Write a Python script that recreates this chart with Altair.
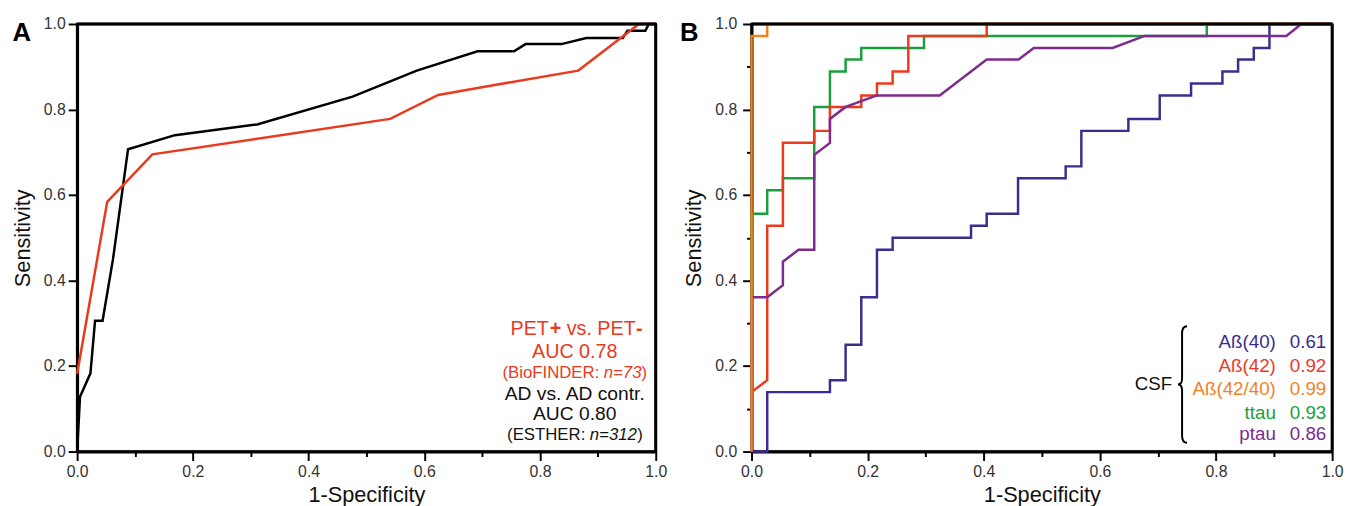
import altair as alt
import pandas as pd

FONT = "Liberation Sans"

# ---------------- Panel A : ROC curves ----------------
a_ad_x = [0, 0.005, 0.023, 0.031, 0.044, 0.062, 0.088, 0.169, 0.311, 0.476, 0.587,
          0.692, 0.755, 0.775, 0.837, 0.880, 0.943, 0.951, 0.982, 0.988, 1.0]
a_ad_y = [0, 0.128, 0.183, 0.306, 0.306, 0.45, 0.707, 0.740, 0.765, 0.830, 0.891,
          0.936, 0.936, 0.953, 0.953, 0.967, 0.967, 0.984, 0.984, 1.0, 1.0]
a_pet_x = [0, 0.052, 0.130, 0.541, 0.624, 0.729, 0.866, 0.971, 1.0]
a_pet_y = [0.182, 0.584, 0.695, 0.778, 0.834, 0.859, 0.891, 1.0, 1.0]

# ---------------- Panel B : CSF ROC curves ----------------
b_ab40_x = [0, 0.027, 0.027, 0.135, 0.135, 0.162, 0.162, 0.189, 0.189, 0.216, 0.216,
            0.243, 0.243, 0.378, 0.378, 0.405, 0.405, 0.459, 0.459, 0.541, 0.541,
            0.568, 0.568, 0.649, 0.649, 0.703, 0.703, 0.757, 0.757, 0.811, 0.811,
            0.838, 0.838, 0.865, 0.865, 0.892, 0.892, 1.0]
b_ab40_y = [0, 0, 0.139, 0.139, 0.167, 0.167, 0.250, 0.250, 0.361, 0.361, 0.472,
            0.472, 0.500, 0.500, 0.528, 0.528, 0.556, 0.556, 0.639, 0.639, 0.667,
            0.667, 0.750, 0.750, 0.778, 0.778, 0.833, 0.833, 0.861, 0.861, 0.889,
            0.889, 0.917, 0.917, 0.944, 0.944, 1.0, 1.0]
b_ab42_x = [0, 0.027, 0.027, 0.054, 0.054, 0.108, 0.108, 0.135, 0.135, 0.189, 0.189,
            0.216, 0.216, 0.243, 0.243, 0.270, 0.270, 0.405, 0.405, 1.0]
b_ab42_y = [0.139, 0.167, 0.528, 0.528, 0.722, 0.722, 0.750, 0.750, 0.806, 0.806, 0.833,
            0.833, 0.861, 0.861, 0.889, 0.889, 0.972, 0.972, 1.0, 1.0]
b_ratio_x = [0, 0, 0.027, 0.027, 1.0]
b_ratio_y = [0, 0.972, 0.972, 1.0, 1.0]
b_ttau_x = [0, 0, 0.027, 0.027, 0.054, 0.054, 0.108, 0.108, 0.135, 0.135, 0.162,
            0.162, 0.189, 0.189, 0.297, 0.297, 0.784, 0.784, 1.0]
b_ttau_y = [0, 0.556, 0.556, 0.611, 0.611, 0.639, 0.639, 0.806, 0.806, 0.889, 0.889,
            0.917, 0.917, 0.944, 0.944, 0.972, 0.972, 1.0, 1.0]
b_ptau_x = [0, 0, 0.027, 0.054, 0.054, 0.081, 0.108, 0.108, 0.135, 0.135, 0.162,
            0.216, 0.324, 0.405, 0.460, 0.486, 0.622, 0.677, 0.921, 0.947, 1.0]
b_ptau_y = [0, 0.361, 0.361, 0.389, 0.444, 0.472, 0.472, 0.694, 0.722, 0.778, 0.806,
            0.833, 0.833, 0.917, 0.917, 0.944, 0.944, 0.972, 0.972, 1.0, 1.0]

# ---------------- colours ----------------
C_BLACK = "#000000"
C_RED = "#ea3a1e"
C_AB40 = "#3d2c8f"
C_AB42 = "#ec3a1f"
C_RATIO = "#f5821f"
C_TTAU = "#1a9f3c"
C_PTAU = "#7e2b8f"

# ---------------- legend texts ----------------
b_names = ["A\u00df(40)", "A\u00df(42)", "A\u00df(42/40)", "ttau", "ptau"]
b_aucs = ["0.61", "0.92", "0.99", "0.93", "0.86"]
b_colors = [C_AB40, C_AB42, C_RATIO, C_TTAU, C_PTAU]
b_text_y = [0.255, 0.201, 0.145, 0.090, 0.042]

MAJOR = "round(datum.value*10) % 2 == 0"


def axis_def(title, minor, orient_pad):
    vals = [round(i / 10, 1) for i in range(11)] if minor else [round(i / 5, 1) for i in range(6)]
    return alt.Axis(
        title=title, values=vals,
        labelExpr=f"{MAJOR} ? format(datum.value, '.1f') : ''",
        tickSize={"condition": {"test": MAJOR, "value": 9}, "value": 5},
        labelOverlap=False, labelFlush=False, labelPadding=orient_pad[0],
        titlePadding=orient_pad[1],
    )


def encs(xaxis, yaxis):
    sc = alt.Scale(domain=[0, 1], nice=False, zero=False)
    X = alt.X("x:Q", scale=sc, axis=xaxis)
    Y = alt.Y("y:Q", scale=sc, axis=yaxis)
    return X, Y


def curve(xs, ys, color, X, Y, width=2.5):
    df = pd.DataFrame({"x": xs, "y": ys, "i": list(range(len(xs)))})
    return alt.Chart(df).mark_line(color=color, strokeWidth=width).encode(
        x=X, y=Y, order="i:Q")


def frame(X, Y):
    top = alt.Chart(pd.DataFrame({"x": [0.0], "x2": [1.0], "y": [1.0]})).mark_rule(
        color="black", strokeWidth=3).encode(x=X, x2="x2:Q", y=Y)
    right = alt.Chart(pd.DataFrame({"x": [1.0], "y": [0.0], "y2": [1.0]})).mark_rule(
        color="black", strokeWidth=3).encode(x=X, y=Y, y2="y2:Q")
    return [top, right]


def text(rows, X, Y, **mk):
    df = pd.DataFrame(rows, columns=["x", "y", "t"])
    props = dict(font=FONT, baseline="middle")
    props.update(mk)
    return alt.Chart(df).mark_text(**props).encode(x=X, y=Y, text="t:N")


def panel_label(letter, dx, dy):
    df = pd.DataFrame({"t": [letter]})
    return alt.Chart(df).mark_text(font=FONT, fontSize=26, fontWeight="bold",
                                   align="center", baseline="middle").encode(
        x=alt.value(dx), y=alt.value(dy), text="t:N")


# ---------------- Panel A ----------------
XA, YA = encs(axis_def("1-Specificity", True, (3, 6)),
              axis_def("Sensitivity", False, (3, 9)))
la = [
    curve(a_ad_x, a_ad_y, C_BLACK, XA, YA),
    curve(a_pet_x, a_pet_y, C_RED, XA, YA),
    *frame(XA, YA),
    text([(0.749, 0.286, "PET")], XA, YA, align="left", fontSize=20, color=C_RED),
    text([(0.817, 0.286, "+")], XA, YA, align="left", fontSize=20, fontWeight="bold", color=C_RED),
    text([(0.846, 0.286, "vs. PET")], XA, YA, align="left", fontSize=20, color=C_RED),
    text([(0.966, 0.286, "-")], XA, YA, align="left", fontSize=20, fontWeight="bold", color=C_RED),
    text([(0.860, 0.232, "AUC 0.78")], XA, YA, align="center", fontSize=20, color=C_RED),
    text([(0.735, 0.183, "(BioFINDER:")], XA, YA, align="left", fontSize=17, color=C_RED),
    text([(0.910, 0.183, "n=73")], XA, YA, align="left", fontSize=17, fontStyle="italic", color=C_RED),
    text([(0.9754, 0.183, ")")], XA, YA, align="left", fontSize=17, color=C_RED),
    text([(0.860, 0.134, "AD vs. AD contr."), (0.860, 0.088, "AUC 0.80")], XA, YA,
         align="center", fontSize=19.5, color="#111111"),
    text([(0.743, 0.039, "(ESTHER:")], XA, YA, align="left", fontSize=17, color="#111111"),
    text([(0.886, 0.039, "n=312")], XA, YA, align="left", fontSize=17, fontStyle="italic", color="#111111"),
    text([(0.968, 0.039, ")")], XA, YA, align="left", fontSize=17, color="#111111"),
    panel_label("A", -56, 9),
]
chart_a = alt.layer(*la).properties(width=586, height=433)

# ---------------- Panel B ----------------
XB, YB = encs(axis_def("1-Specificity", True, (3, 6)),
              axis_def("Sensitivity", True, (6, 9)))
lb = [
    curve(b_ab40_x, b_ab40_y, C_AB40, XB, YB),
    curve(b_ttau_x, b_ttau_y, C_TTAU, XB, YB),
    curve(b_ab42_x, b_ab42_y, C_AB42, XB, YB),
    curve(b_ptau_x, b_ptau_y, C_PTAU, XB, YB),
    curve(b_ratio_x, b_ratio_y, C_RATIO, XB, YB),
    *frame(XB, YB),
]
for name, auc, col, yy in zip(b_names, b_aucs, b_colors, b_text_y):
    lb.append(text([(0.903, yy, name)], XB, YB, align="right", fontSize=19, color=col))
    lb.append(text([(0.927, yy, auc)], XB, YB, align="left", fontSize=19, color=col))
lb.append(text([(0.7245, 0.159, "CSF")], XB, YB, align="right", fontSize=19, color="#111111"))
brace_df = pd.DataFrame({"x": [0.7415], "y": [0.157]})
BRACE = "M0.085,-1 Q0,-1 0,-0.88 L0,-0.1 Q0,0 -0.07,0 Q0,0 0,0.1 L0,0.88 Q0,1 0.085,1"
lb.append(alt.Chart(brace_df).mark_point(shape=BRACE, filled=False, stroke="black",
                                         strokeWidth=2, opacity=1, size=13924).encode(x=XB, y=YB))
lb.append(panel_label("B", -63, 9))
chart_b = alt.layer(*lb).properties(width=588, height=433)

chart = alt.hconcat(chart_a, chart_b, spacing=10).properties(
    padding={"top": 3, "left": 2, "right": 0, "bottom": 0}
).configure_view(stroke="black", strokeWidth=2.5).configure_axis(
    domainColor="black", domainWidth=3, tickColor="black", tickWidth=2,
    labelFont=FONT, labelFontSize=16, labelColor="#333333",
    titleFont=FONT, titleFontSize=22, titleFontWeight="normal", titleColor="#111111",
    grid=False,
)

chart.save("out.html", embed_options={"renderer": "svg", "actions": False})
